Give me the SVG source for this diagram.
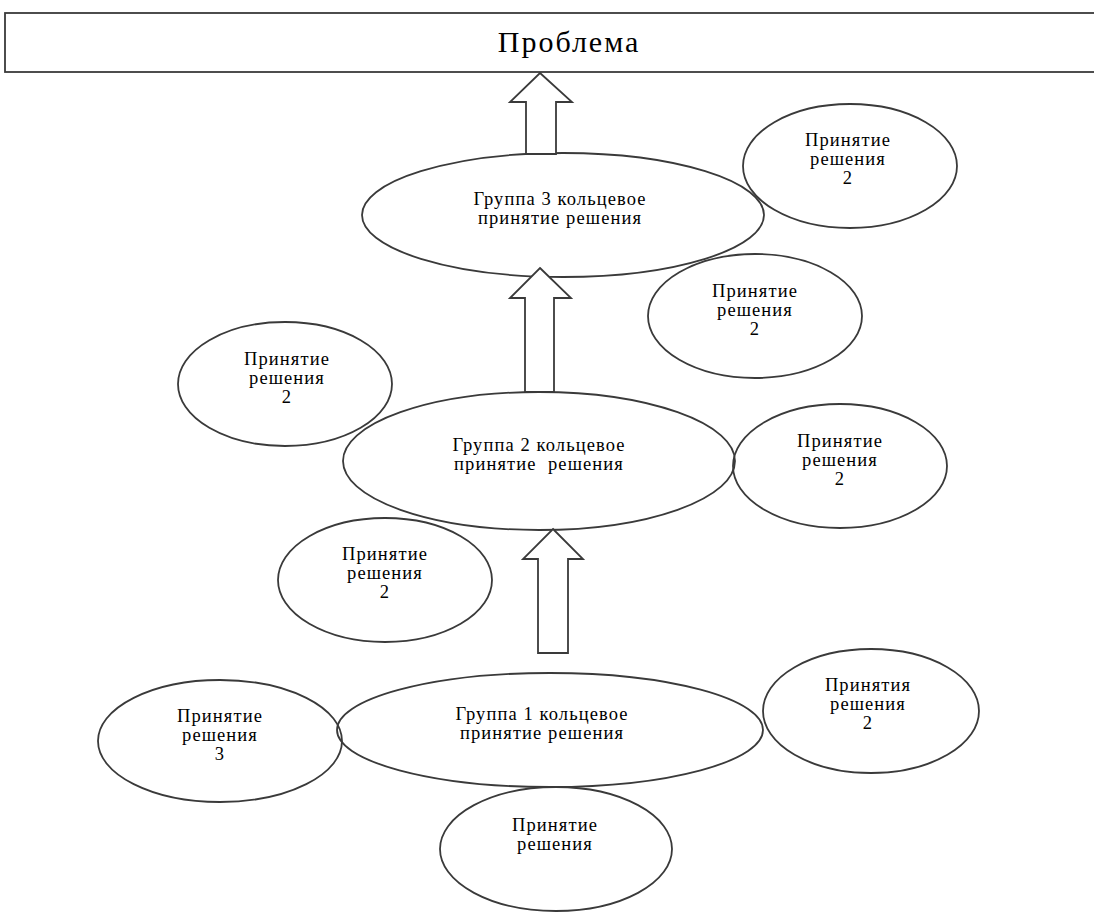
<svg xmlns="http://www.w3.org/2000/svg" width="1094" height="915" viewBox="0 0 1094 915">
<style>
.sh{fill:none;stroke:#3a3a3a;stroke-width:1.8}
.ar{fill:#fff;stroke:#3a3a3a;stroke-width:1.8;stroke-linejoin:miter}
text{font-family:"Liberation Serif","DejaVu Serif",serif;fill:#000;text-anchor:middle}
.t{font-size:18.5px;letter-spacing:1.1px}
.tt{font-size:30px;letter-spacing:2px}
</style>
<rect width="1094" height="915" fill="#fff"/>
<g id="problem">
<rect x="5" y="13" width="1100" height="59" fill="#fff" stroke="#3a3a3a" stroke-width="1.8"/>
<text class="tt" x="569" y="52">Проблема</text>
</g>
<g id="group3">
<ellipse class="sh" cx="563" cy="215" rx="201" ry="62"/>
<text class="t" x="560" y="205">Группа 3 кольцевое</text>
<text class="t" x="560" y="224">принятие решения</text>
</g>
<g id="group2">
<ellipse class="sh" cx="539" cy="461" rx="196" ry="69"/>
<text class="t" x="539" y="451">Группа 2 кольцевое</text>
<text class="t" x="539" y="470" xml:space="preserve">принятие  решения</text>
</g>
<g id="group1">
<ellipse class="sh" cx="550" cy="730" rx="213" ry="57"/>
<text class="t" x="542" y="720">Группа 1 кольцевое</text>
<text class="t" x="542" y="739">принятие решения</text>
</g>
<g id="d-top-right">
<ellipse class="sh" cx="850" cy="166" rx="107" ry="62"/>
<text class="t" x="848" y="146">Принятие</text>
<text class="t" x="848" y="165">решения</text>
<text class="t" x="848" y="184">2</text>
</g>
<g id="d-mid-right">
<ellipse class="sh" cx="755" cy="316" rx="107" ry="62"/>
<text class="t" x="755" y="297">Принятие</text>
<text class="t" x="755" y="316">решения</text>
<text class="t" x="755" y="335">2</text>
</g>
<g id="d-upper-left">
<ellipse class="sh" cx="285" cy="384" rx="107" ry="62"/>
<text class="t" x="287" y="365">Принятие</text>
<text class="t" x="287" y="384">решения</text>
<text class="t" x="287" y="403">2</text>
</g>
<g id="d-right-g2">
<ellipse class="sh" cx="840" cy="466" rx="107" ry="62"/>
<text class="t" x="840" y="447">Принятие</text>
<text class="t" x="840" y="466">решения</text>
<text class="t" x="840" y="485">2</text>
</g>
<g id="d-lower-left">
<ellipse class="sh" cx="385" cy="580" rx="107" ry="62"/>
<text class="t" x="385" y="560">Принятие</text>
<text class="t" x="385" y="579">решения</text>
<text class="t" x="385" y="598">2</text>
</g>
<g id="d-right-g1">
<ellipse class="sh" cx="871" cy="711" rx="108" ry="62"/>
<text class="t" x="868" y="691">Принятия</text>
<text class="t" x="868" y="710">решения</text>
<text class="t" x="868" y="729">2</text>
</g>
<g id="d-left-g1">
<ellipse class="sh" cx="220" cy="741" rx="122" ry="61"/>
<text class="t" x="220" y="722">Принятие</text>
<text class="t" x="220" y="741">решения</text>
<text class="t" x="220" y="760">3</text>
</g>
<g id="d-bottom">
<ellipse class="sh" cx="556" cy="849" rx="116" ry="62"/>
<text class="t" x="555" y="831">Принятие</text>
<text class="t" x="555" y="850">решения</text>
</g>
<g id="connectors">
<polygon class="ar" points="540,73 572,102 556,102 556,154 526,154 526,102 510,102"/>
<polygon class="ar" points="540,268 571,298 554,298 554,392 525,392 525,298 510,298"/>
<polygon class="ar" points="553,529 583,559 568,559 568,653 538,653 538,559 523,559"/>
</g>
</svg>
